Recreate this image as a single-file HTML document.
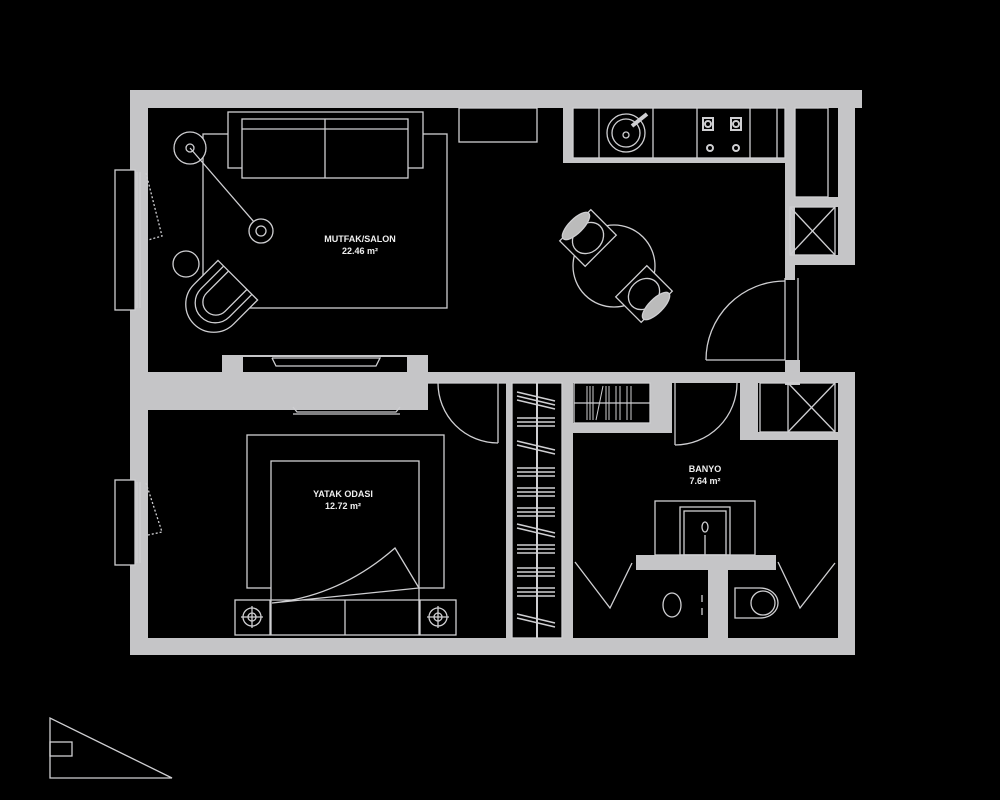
<!DOCTYPE html>
<html><head><meta charset="utf-8"><style>
html,body{margin:0;padding:0;background:#000;}
svg{display:block}
text{font-family:"Liberation Sans",sans-serif;font-weight:bold;fill:#eee;font-size:9px;text-anchor:middle}
</style></head><body>
<svg width="1000" height="800" viewBox="0 0 1000 800">
<rect width="1000" height="800" fill="#000"/>
<g fill="#c5c5c7">
<rect x="130" y="90" width="732" height="18"/>
<rect x="130" y="90" width="18" height="565"/>
<rect x="130" y="638" width="725" height="17"/>
<rect x="838" y="90" width="17" height="175"/>
<rect x="838" y="372" width="17" height="283"/>
<rect x="785" y="255" width="70" height="10"/>
<rect x="785" y="100" width="10" height="180"/>
<rect x="785" y="360" width="15" height="25"/>
<rect x="790" y="197" width="50" height="10"/>
<rect x="563" y="100" width="10" height="63"/>
<rect x="563" y="158" width="227" height="5"/>
<rect x="148" y="372" width="280" height="38"/>
<rect x="222" y="355" width="206" height="20"/>
<rect x="428" y="372" width="427" height="11"/>
<rect x="562" y="372" width="11" height="266"/>
<rect x="650" y="372" width="22" height="61"/>
<rect x="573" y="423" width="90" height="10"/>
<rect x="740" y="372" width="18" height="68"/>
<rect x="740" y="432" width="98" height="8"/>
<rect x="506" y="383" width="6" height="255"/>
<rect x="636" y="555" width="140" height="15"/>
<rect x="708" y="570" width="20" height="68"/>
</g>
<g fill="none" stroke="#cfcfd2" stroke-width="1.3">
<rect x="115" y="170" width="20" height="140" fill="#000"/>
<line x1="137" y1="172" x2="137" y2="308"/><line x1="140" y1="172" x2="140" y2="308"/>
<polyline points="146,173 162,236 148,240" stroke-dasharray="2,2"/>
<rect x="115" y="480" width="20" height="85" fill="#000"/>
<line x1="137" y1="482" x2="137" y2="563"/><line x1="140" y1="482" x2="140" y2="563"/>
<polyline points="146,483 162,532 148,535" stroke-dasharray="2,2"/>
<rect x="243" y="357" width="164" height="15" fill="#000" stroke="none"/>
<polyline points="272,358 276,366 376,366 380,358 272,358"/>
<polyline points="293,407 297,412 396,412 400,407" />
<line x1="293" y1="414" x2="400" y2="414"/>
<rect x="203" y="134" width="244" height="174"/>
<rect x="228" y="112" width="195" height="56" fill="#000"/>
<rect x="242" y="119" width="166" height="59" fill="#000"/>
<line x1="242" y1="129" x2="408" y2="129"/>
<line x1="325" y1="119" x2="325" y2="178"/>
<circle cx="190" cy="148" r="16" fill="#000"/><circle cx="190" cy="148" r="4"/>
<line x1="190" y1="148" x2="261" y2="230"/>
<circle cx="261" cy="231" r="12" fill="#000"/><circle cx="261" cy="231" r="5"/>
<circle cx="186" cy="264" r="13" fill="#000"/>
<g transform="translate(218,300) rotate(45)">
<path d="M-28,-28 L28,-28 L28,6 A28,28 0 0 1 -28,6 Z" fill="#000"/>
<path d="M-20,-28 L-20,4 A20,20 0 0 0 20,4 L20,-28"/>
<path d="M-13,-28 L-13,3 A13,13 0 0 0 13,3 L13,-28"/>
</g>
<rect x="459" y="108" width="78" height="34"/>
<rect x="573" y="108" width="212" height="50"/>
<line x1="599" y1="108" x2="599" y2="158"/><line x1="653" y1="108" x2="653" y2="158"/>
<line x1="697" y1="108" x2="697" y2="158"/><line x1="750" y1="108" x2="750" y2="158"/>
<line x1="777" y1="108" x2="777" y2="158"/>
<circle cx="626" cy="133" r="19"/><circle cx="626" cy="133" r="14"/><circle cx="626" cy="135" r="3"/>
<line x1="632" y1="126" x2="647" y2="114" stroke-width="4"/>
<g stroke-width="2">
<rect x="703" y="118" width="10" height="12"/><circle cx="708" cy="124" r="3"/>
<rect x="731" y="118" width="10" height="12"/><circle cx="736" cy="124" r="3"/>
<circle cx="710" cy="148" r="3"/><circle cx="736" cy="148" r="3"/>
</g>
<rect x="795" y="108" width="33" height="89"/>
<rect x="790" y="207" width="45" height="48"/>
<line x1="790" y1="207" x2="835" y2="255"/><line x1="835" y1="207" x2="790" y2="255"/>
<circle cx="614" cy="266" r="41"/>
<g transform="translate(588,238) rotate(-45)">
<rect x="-22" y="-18" width="44" height="36" fill="#000"/>
<ellipse cx="0" cy="0" rx="17" ry="14"/>
<ellipse cx="0" cy="-17" rx="18" ry="7" fill="#bbb"/>
</g>
<g transform="translate(644,294) rotate(-45)">
<rect x="-22" y="-18" width="44" height="36" fill="#000"/>
<ellipse cx="0" cy="0" rx="17" ry="14"/>
<ellipse cx="0" cy="17" rx="18" ry="7" fill="#bbb"/>
</g>
<line x1="785" y1="278" x2="785" y2="360"/><line x1="798" y1="278" x2="798" y2="360"/>
<path d="M706,360 A79,79 0 0 1 785,281"/>
<line x1="706" y1="360" x2="785" y2="360"/>
<path d="M438,383 A60,60 0 0 0 498,443"/>
<line x1="498" y1="383" x2="498" y2="443"/>
<line x1="428" y1="383" x2="506" y2="383"/>
<path d="M737,383 A62,62 0 0 1 675,445"/>
<line x1="675" y1="383" x2="675" y2="445"/>
<rect x="574" y="383" width="76" height="40"/>
<line x1="574" y1="403" x2="650" y2="403"/>
<g stroke-width="1">
<line x1="587" y1="386" x2="587" y2="420"/><line x1="590" y1="386" x2="590" y2="420"/>
<line x1="593" y1="386" x2="593" y2="420"/><line x1="596" y1="420" x2="603" y2="386"/>
<line x1="606" y1="386" x2="606" y2="420"/><line x1="609" y1="386" x2="609" y2="420"/>
<line x1="616" y1="386" x2="616" y2="420"/><line x1="620" y1="386" x2="620" y2="420"/>
<line x1="627" y1="386" x2="627" y2="420"/><line x1="631" y1="386" x2="631" y2="420"/>
</g>
<rect x="760" y="383" width="75" height="49"/>
<line x1="788" y1="383" x2="788" y2="432"/>
<line x1="788" y1="383" x2="835" y2="432"/><line x1="835" y1="383" x2="788" y2="432"/>
<rect x="512" y="383" width="50" height="255"/>
<line x1="537" y1="383" x2="537" y2="638" stroke-width="2"/>
<g stroke-width="1.5">
<path d="M517,392 L555,401 M517,396 L555,405 M517,400 L555,409"/>
<path d="M517,418 H555 M517,422 H555 M517,426 H555"/>
<path d="M517,441 L555,450 M517,445 L555,454"/>
<path d="M517,468 H555 M517,472 H555 M517,476 H555"/>
<path d="M517,488 H555 M517,492 H555 M517,496 H555"/>
<path d="M517,508 H555 M517,512 H555 M517,516 H555"/>
<path d="M517,524 L555,533 M517,528 L555,537"/>
<path d="M517,545 H555 M517,549 H555 M517,553 H555"/>
<path d="M517,568 H555 M517,572 H555 M517,576 H555"/>
<path d="M517,588 H555 M517,592 H555 M517,596 H555"/>
<path d="M517,614 L555,623 M517,618 L555,627"/>
</g>
<rect x="247" y="435" width="197" height="153"/>
<rect x="271" y="461" width="148" height="174" fill="#000"/>
<line x1="271" y1="600" x2="419" y2="600"/>
<line x1="345" y1="600" x2="345" y2="635"/>
<path d="M272,603 Q340,596 395,548 L419,588 Z" fill="#000"/>
<rect x="235" y="600" width="35" height="35"/><circle cx="252" cy="617" r="9"/><circle cx="252" cy="617" r="4"/>
<line x1="252" y1="606" x2="252" y2="628"/><line x1="241" y1="617" x2="263" y2="617"/>
<rect x="420" y="600" width="36" height="35"/><circle cx="438" cy="617" r="9"/><circle cx="438" cy="617" r="4"/>
<line x1="438" y1="606" x2="438" y2="628"/><line x1="427" y1="617" x2="449" y2="617"/>
<rect x="655" y="501" width="100" height="54"/>
<rect x="680" y="507" width="50" height="48"/>
<rect x="684" y="511" width="42" height="44"/>
<ellipse cx="705" cy="527" rx="3" ry="5"/>
<line x1="705" y1="535" x2="705" y2="555"/>
<polyline points="575,562 610,608 632,563"/>
<polyline points="778,562 800,608 835,563"/>
<ellipse cx="672" cy="605" rx="9" ry="12"/>
<path d="M735,588 H760 A18,15 0 0 1 760,618 H735 Z"/>
<ellipse cx="763" cy="603" rx="12" ry="12"/>
<line x1="702" y1="595" x2="702" y2="602"/><line x1="702" y1="608" x2="702" y2="615"/>
<polygon points="50,718 50,778 172,778"/>
<rect x="50" y="742" width="22" height="14"/>
</g>
<text x="360" y="242">MUTFAK/SALON</text>
<text x="360" y="254">22.46 m²</text>
<text x="343" y="497">YATAK ODASI</text>
<text x="343" y="509">12.72 m²</text>
<text x="705" y="472">BANYO</text>
<text x="705" y="484">7.64 m²</text>
</svg>
</body></html>
